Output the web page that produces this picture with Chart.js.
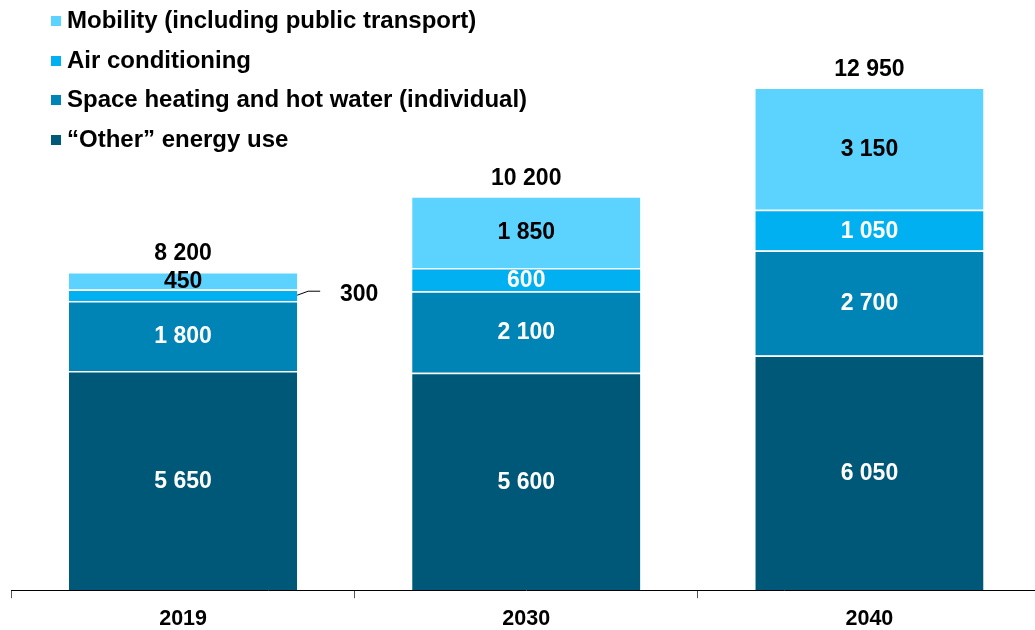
<!DOCTYPE html>
<html>
<head>
<meta charset="utf-8">
<script src="https://cdn.jsdelivr.net/npm/chart.js@4"></script>
<style>
  html, body { margin: 0; padding: 0; background: #fff; overflow: hidden; }
  #wrap { position: relative; width: 1035px; height: 630px; overflow: hidden; }
  #legend { position: absolute; left: 51px; top: 5px; font-family: "Liberation Sans", Arial, sans-serif; font-weight: bold; font-size: 24px; color: #000; }
  #legend div { height: 39.5px; line-height: 30px; white-space: nowrap; }
  #legend span.box { display: inline-block; width: 10px; height: 10px; margin-right: 6px; vertical-align: 2px; }
</style>
</head>
<body>
<div id="wrap">
  <canvas id="myBarChart" width="1041" height="630"></canvas>
  <div id="legend"></div>
</div>
<script>
var years = ['2019', '2030', '2040'];
var other = [5650, 5600, 6050];
var heating = [1800, 2100, 2700];
var aircon = [300, 600, 1050];
var mobility = [450, 1850, 3150];
var totals = [8200, 10200, 12950];

var names = ['\u201cOther\u201d energy use', 'Space heating and hot water (individual)', 'Air conditioning', 'Mobility (including public transport)'];
var colors = ['#005879', '#0083B5', '#00B0F0', '#5CD3FF'];
var labelColors = ['#fff', '#fff', '#fff', '#000'];

function fmt(v){
    return String(v).replace(/\B(?=(\d{3})+(?!\d))/g, ' ');
}

// legend, top entry first
var legend = document.getElementById('legend');
for (let i = names.length - 1; i >= 0; i--) {
    let row = document.createElement('div');
    let box = document.createElement('span');
    box.className = 'box';
    box.style.background = colors[i];
    row.appendChild(box);
    row.appendChild(document.createTextNode(names[i]));
    legend.appendChild(row);
}

// values inside segments, totals on top
var valueLabels = {
    id: 'valueLabels',
    afterDatasetsDraw: function(chart){
        let c = chart.ctx;
        c.save();
        c.font = 'bold 23px "Liberation Sans", Arial, sans-serif';
        c.textAlign = 'center';
        c.textBaseline = 'middle';
        chart.data.datasets.forEach(function(ds, di){
            chart.getDatasetMeta(di).data.forEach(function(bar, i){
                let h = Math.abs(bar.base - bar.y);
                let mid = (bar.base + bar.y) / 2;
                if (h < 14) {
                    // too thin: label to the right with a leader line
                    let right = bar.x + bar.width / 2;
                    c.strokeStyle = '#000';
                    c.lineWidth = 1;
                    c.beginPath();
                    c.moveTo(right, mid);
                    c.lineTo(right + 11, mid - 4);
                    c.lineTo(right + 23, mid - 4);
                    c.stroke();
                    c.fillStyle = '#000';
                    c.fillText(fmt(ds.data[i]), right + 62, mid - 1);
                } else {
                    c.fillStyle = labelColors[di];
                    c.fillText(fmt(ds.data[i]), bar.x, mid + 1);
                }
            });
        });
        let top = chart.getDatasetMeta(chart.data.datasets.length - 1).data;
        c.fillStyle = '#000';
        top.forEach(function(bar, i){
            c.fillText(fmt(totals[i]), bar.x, bar.y - 18);
        });
        c.restore();
    }
};

var ctx = document.getElementById('myBarChart');
var datasets = [other, heating, aircon, mobility].map(function(d, i){
    return {
        label: names[i],
        data: d,
        backgroundColor: colors[i],
        borderColor: '#fff',
        borderWidth: {top: 1.5, left: 0, right: 0, bottom: 0},
        borderSkipped: false,
        categoryPercentage: 1,
        barPercentage: 0.665
    };
});

var myBarChart = new Chart(ctx, {
    type: 'bar',
    data: { labels: years, datasets: datasets },
    options: {
        responsive: false,
        animation: false,
        layout: { padding: { left: 11.5, right: 0, top: 8, bottom: -10 } },
        plugins: {
            legend: { display: false },
            tooltip: { enabled: false }
        },
        scales: {
            x: {
                stacked: true,
                offset: true,
                grid: {
                    offset: true,
                    drawOnChartArea: false,
                    drawTicks: true,
                    tickLength: 8,
                    color: '#555'
                },
                border: { display: true, color: '#000', width: 1 },
                ticks: {
                    color: '#000',
                    padding: 8,
                    font: { family: '"Liberation Sans", Arial', weight: 'bold', size: 21.5 }
                }
            },
            y: {
                stacked: true,
                display: false,
                min: 0,
                max: 15000
            }
        }
    },
    plugins: [valueLabels]
});
</script>
</body>
</html>
